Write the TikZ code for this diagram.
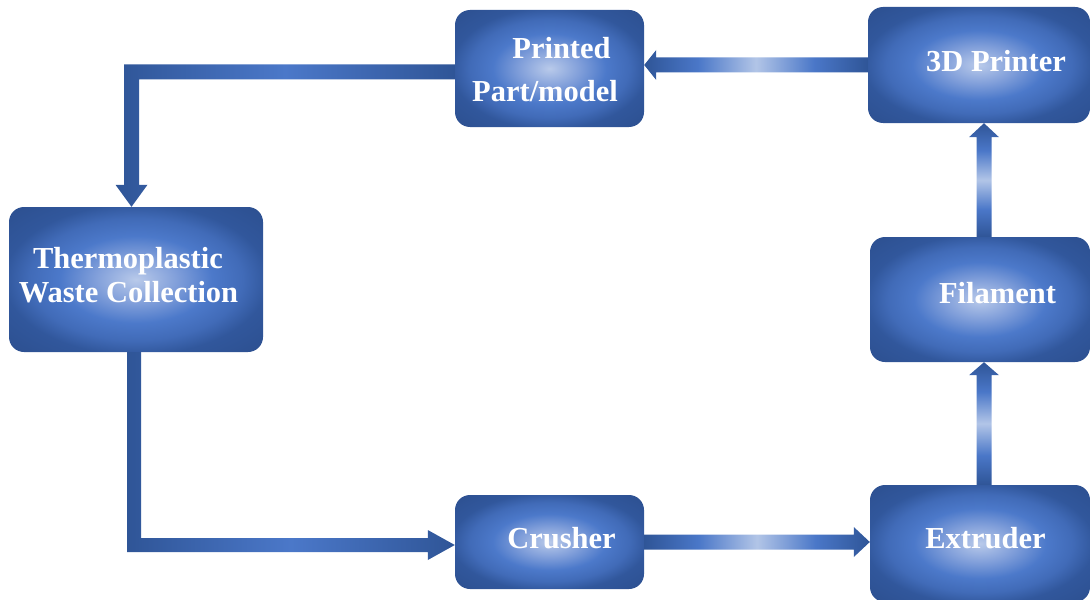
\documentclass[tikz,border=0pt]{standalone}
\usepackage{fontspec}
\setmainfont{Liberation Serif}
\usetikzlibrary{calc}
\definecolor{bL}{HTML}{B9CAEA}
\definecolor{bL2}{HTML}{819FDA}
\definecolor{bM}{HTML}{4C79CA}
\definecolor{bM2}{HTML}{416BB8}
\definecolor{bD}{HTML}{31579C}
\definecolor{bE}{HTML}{2C4F8F}
\definecolor{aD}{HTML}{2F5597}
\definecolor{aM}{HTML}{4A77C8}
\definecolor{aL}{HTML}{B2C5E7}
\definecolor{aM2}{HTML}{4B78C9}
\pgfdeclareradialshading{boxshade}{\pgfpoint{0bp}{0bp}}{color(0bp)=(bL); color(8bp)=(bL2); color(15bp)=(bM); color(21bp)=(bM2); color(26bp)=(bD); color(36bp)=(bE); color(50bp)=(bE)}
\pgfdeclarehorizontalshading{arrowshade}{100bp}{color(0bp)=(aD); color(25bp)=(aD); color(37bp)=(aM); color(50bp)=(aL); color(63bp)=(aM); color(75bp)=(aD); color(100bp)=(aD)}
\pgfdeclarehorizontalshading{lshade}{100bp}{color(0bp)=(aD); color(25bp)=(aD); color(50bp)=(aM2); color(75bp)=(aD); color(100bp)=(aD)}
\newcommand\arrH[4]{\shade[#4] ($(#1)+(0,-7.5)$) -- ($(#2)+(#3,-7.5)$) -- ($(#2)+(#3,-15)$) -- (#2) -- ($(#2)+(#3,15)$) -- ($(#2)+(#3,7.5)$) -- ($(#1)+(0,7.5)$) -- cycle;}
\newcommand\arrV[4]{\shade[#4] ($(#1)+(-7.5,0)$) -- ($(#2)+(-7.5,#3)$) -- ($(#2)+(-15,#3)$) -- (#2) -- ($(#2)+(15,#3)$) -- ($(#2)+(7.5,#3)$) -- ($(#1)+(7.5,0)$) -- cycle;}
\begin{document}
\begin{tikzpicture}[x=1pt,y=-1pt,
  box/.style={rounded corners=15pt, shade, shading=boxshade, inner sep=0pt, draw=none},
  txt/.style={text=white, font=\bfseries\fontsize{30.5}{34}\selectfont, inner sep=0pt, anchor=base},
  harrow/.style={shading=arrowshade},
  varrow/.style={shading=arrowshade, shading angle=90},
  larrow/.style={shading=lshade}]
\useasboundingbox (0,0) rectangle (1091,599);
% boxes
\node[box, minimum width=189pt, minimum height=117pt] (pp) at (549.5,68.5) {};
\node[box, minimum width=222pt, minimum height=116pt] (pr) at (979,65) {};
\node[box, minimum width=254pt, minimum height=145pt] (th) at (136,279.5) {};
\node[box, minimum width=189pt, minimum height=94pt] (cr) at (549.5,542) {};
\node[box, minimum width=220pt, minimum height=125pt] (fi) at (980,299.5) {};
\node[box, minimum width=220pt, minimum height=117pt] (ex) at (980,543.5) {};
% texts
\node[txt] (tpp1) at (561.5,59) {Printed};
\node[txt] (tpp2) at (545,102) {Part/model};
\node[txt] (tpr) at (996,72) {3D Printer};
\node[txt] (tth1) at (128,268) {Thermoplastic};
\node[txt] (tth2) at (128.5,302) {Waste Collection};
\node[txt] (tfi) at (997.5,303) {Filament};
\node[txt] (tcr) at (561.5,548) {Crusher};
\node[txt] (tex) at (985.5,548) {Extruder};
% straight connectors
\coordinate (t1) at (cr.east -| ex.west);
\arrH{cr.east}{t1}{-16}{harrow}
\coordinate (t2) at (pr.west -| pp.east);
\arrH{pr.west}{t2}{12}{harrow}
\coordinate (e1) at ($(ex.north)+(4,0)$);
\coordinate (e2) at (e1 |- fi.south);
\arrV{e1}{e2}{13}{varrow}
\coordinate (f1) at ($(fi.north)+(4,0)$);
\coordinate (f2) at (f1 |- pr.south);
\arrV{f1}{f2}{14}{varrow}
% L-shaped connectors
\coordinate (k1) at ($(th.north)+(-4.5,0)$);
\coordinate (p0) at ($(pp.west)+(0,3.5)$);
\coordinate (c1) at (k1 |- p0);
\shade[larrow] ($(p0)+(0,-7.5)$) -- ($(c1)+(-7.5,-7.5)$) -- ($(k1)+(-7.5,-22)$) -- ($(k1)+(-16,-22)$) -- (k1) -- ($(k1)+(16,-22)$) -- ($(k1)+(7.5,-22)$) -- ($(c1)+(7.5,7.5)$) -- ($(p0)+(0,7.5)$) -- cycle;
\coordinate (s0) at ($(th.south)+(-2,0)$);
\coordinate (t3) at ($(cr.west)+(0,3)$);
\coordinate (c2) at (s0 |- t3);
\shade[larrow] ($(s0)+(-7,0)$) -- ($(c2)+(-7,7)$) -- ($(t3)+(-27,7)$) -- ($(t3)+(-27,15)$) -- (t3) -- ($(t3)+(-27,-15)$) -- ($(t3)+(-27,-7)$) -- ($(c2)+(7,-7)$) -- ($(s0)+(7,0)$) -- cycle;
\end{tikzpicture}
\end{document}
